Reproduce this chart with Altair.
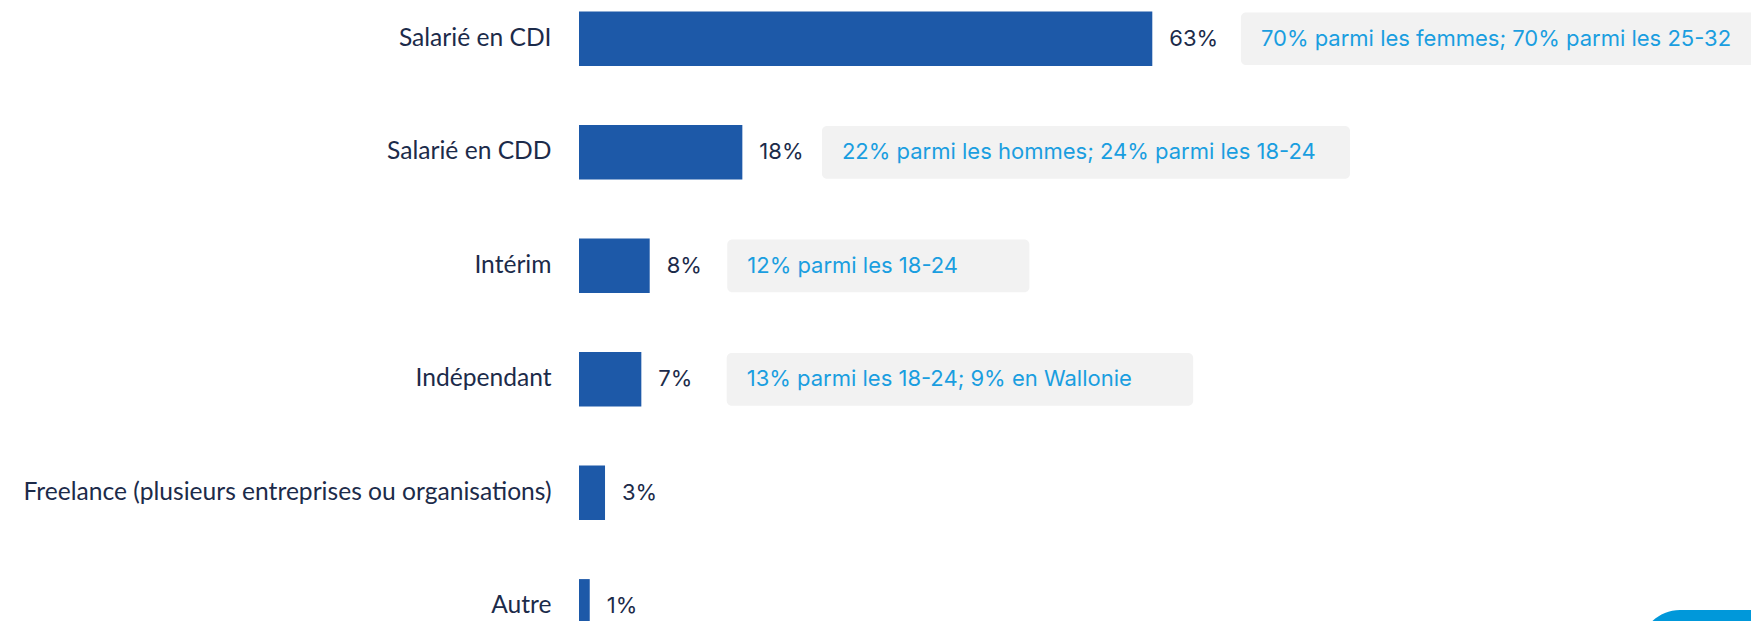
import altair as alt
import pandas as pd

categories = [
    "Salarié en CDI",
    "Salarié en CDD",
    "Intérim",
    "Indépendant",
    "Freelance (plusieurs entreprises ou organisations)",
    "Autre",
]
values = [63.0, 17.95, 7.77, 6.85, 2.86, 1.18]
value_labels = ["63%", "18%", "8%", "7%", "3%", "1%"]
notes = [
    "70% parmi les femmes; 70% parmi les 25-32",
    "22% parmi les hommes; 24% parmi les 18-24",
    "12% parmi les 18-24",
    "13% parmi les 18-24; 9% en Wallonie",
    "",
    "",
]

# layout constants (pixels)
PLOT_W = 1172
PX_PER_UNIT = 9.1
X_MAX = PLOT_W / PX_PER_UNIT

df = pd.DataFrame({"cat": categories, "val": values, "lab": value_labels, "note": notes})
df["box_l"] = [max(v + (76 + 0.2 * v) / PX_PER_UNIT, 147.7 / PX_PER_UNIT) for v in df["val"]]
df["box_r"] = df["box_l"] + (10.27 * df["note"].str.len() + 107) / PX_PER_UNIT
notes_df = df[df["note"] != ""]

NAVY = "#1c2b4a"
BAR = "#1d59a8"
NOTE_BLUE = "#1a9ee0"
BOX = "#f2f2f2"

yscale = alt.Scale(domain=categories, range=[0, 629.1], paddingInner=0.52, paddingOuter=0.031)
xscale = alt.Scale(domain=[0, X_MAX], nice=False, zero=True)

y_axis = alt.Axis(
    title=None,
    domain=False,
    ticks=False,
    grid=False,
    labelFont="Lato",
    labelFontSize=24.6,
    labelColor=NAVY,
    labelPadding=28,
    labelLimit=800,
)
y_enc = alt.Y("cat:N", scale=yscale, sort=categories, axis=y_axis)
x_enc = alt.X("val:Q", scale=xscale, axis=None)

bars = alt.Chart(df).mark_bar(color=BAR).encode(x=x_enc, y=y_enc)

vlabels = alt.Chart(df).mark_text(
    align="left", baseline="middle", dx=17, font="Inter", fontSize=22, color=NAVY
).encode(x=x_enc, y=y_enc, text="lab:N")

boxes = alt.Chart(notes_df).mark_bar(color=BOX, size=52.7, cornerRadius=5).encode(
    x=alt.X("box_l:Q", scale=xscale, axis=None),
    x2="box_r:Q",
    y=y_enc,
)

ntext = alt.Chart(notes_df).mark_text(
    align="left", baseline="middle", dx=20, font="Inter", fontSize=22, color=NOTE_BLUE
).encode(x=alt.X("box_l:Q", scale=xscale, axis=None), y=y_enc, text="note:N")

deco = alt.Chart(pd.DataFrame({"d": [0]})).mark_rect(color="#0098da", cornerRadius=40).encode(
    x=alt.value(1061), x2=alt.value(1240), y=alt.value(602), y2=alt.value(700)
)

chart = (
    alt.layer(boxes, bars, vlabels, ntext, deco)
    .properties(
        width=PLOT_W,
        height=613,
        background="white",
        autosize=alt.AutoSizeParams(type="none"),
        padding={"left": 571, "top": 0, "right": 0, "bottom": 0},
    )
    .configure_view(stroke=None, strokeWidth=0)
)

chart.save("out.html", embed_options={"renderer": "svg", "actions": False})
